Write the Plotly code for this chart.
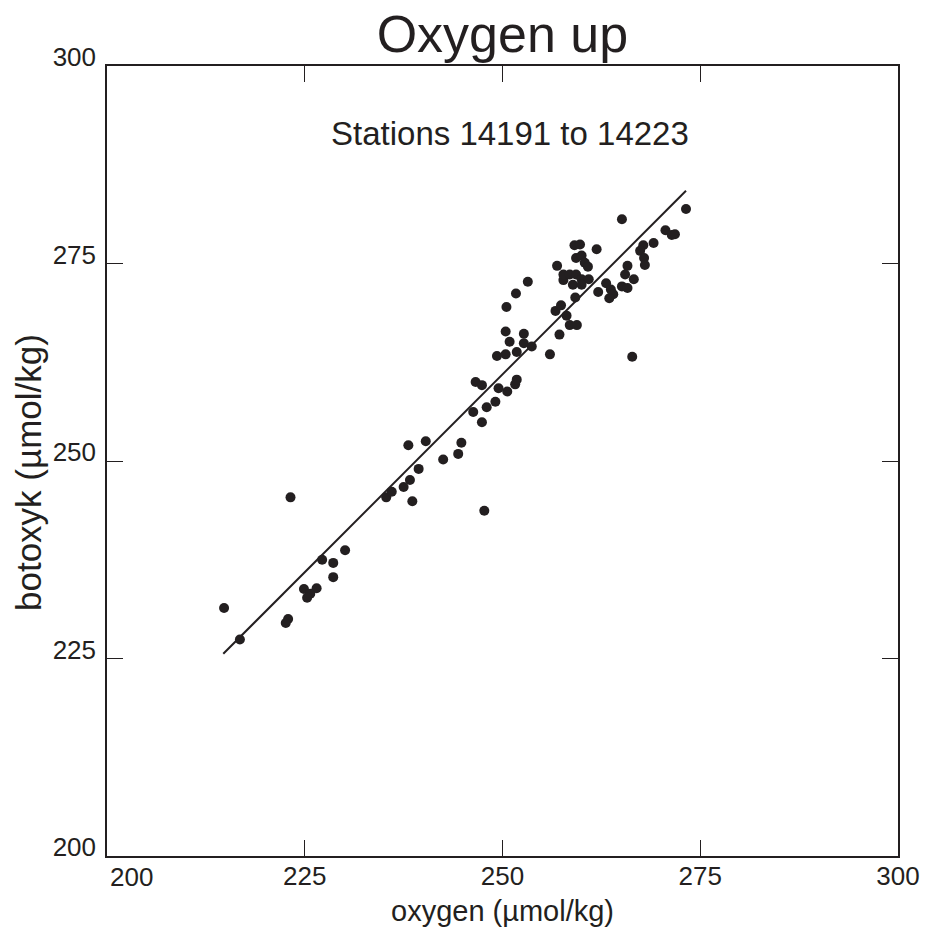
import plotly.graph_objects as go

# Oxygen (x) vs bottle oxygen (y), µmol/kg
oxygen = [
    214.8, 216.8, 223.2, 222.9, 222.6, 227.2, 228.6, 230.1, 228.6, 224.9,
    226.5, 225.7, 225.3, 235.3, 236.0,
    238.6, 237.5, 238.3, 239.4, 238.1, 240.3, 242.5, 244.4, 244.8, 247.7,
    246.3, 247.4, 248.0, 249.1, 246.6, 247.4, 249.5, 250.6, 251.6, 251.8,
    249.3, 250.4, 251.8, 250.9, 250.4, 252.7, 252.7, 253.7, 256.0, 250.5,
    251.7, 253.2, 257.2, 256.7, 257.4, 258.1, 258.5, 259.4, 259.2, 257.7,
    258.9,
    273.2, 265.1, 270.6, 271.4, 271.8, 269.1, 267.8, 267.4, 267.9, 268.0,
    259.1, 259.8, 261.9, 259.3, 260.0, 260.4, 260.8, 256.9, 257.7, 258.5,
    259.3, 260.0, 260.9, 260.0, 263.1, 262.1, 263.7, 264.0, 263.5,
    265.8, 265.5, 266.6, 265.1, 265.8, 266.4,
]
botoxyk = [
    231.4, 227.4, 245.4, 230.0, 229.5, 237.5, 237.1, 238.7, 235.3, 233.8,
    233.9, 233.2, 232.7, 245.4, 246.1,
    244.9, 246.7, 247.6, 249.0, 252.0, 252.5, 250.2, 250.9, 252.3, 243.7,
    256.2, 254.9, 256.8, 257.5, 260.0, 259.6, 259.2, 258.8, 259.7, 260.3,
    263.3, 263.5, 263.8, 265.1, 266.4, 266.1, 264.9, 264.5, 263.5, 269.5,
    271.2, 272.7, 266.0, 269.0, 269.7, 268.4, 267.2, 267.2, 270.7, 272.9,
    272.3,
    281.9, 280.6, 279.2, 278.6, 278.7, 277.6, 277.3, 276.6, 275.7, 274.8,
    277.3, 277.4, 276.8, 275.7, 276.0, 275.1, 274.6, 274.7, 273.6, 273.6,
    273.6, 273.0, 273.0, 272.3, 272.5, 271.4, 271.7, 271.1, 270.6,
    274.7, 273.6, 273.0, 272.1, 271.9, 263.2,
]

# Least-squares fit line endpoints
fit_x = [214.7, 273.2]
fit_y = [225.6, 284.2]

tick_vals = [200, 225, 250, 275, 300]
tick_text = ["200", "225", "250", "275", "300"]

x_title = "oxygen (µmol/kg)"
y_title = "botoxyk (µmol/kg)"
note = "Stations 14191 to 14223"

ink = "#231f20"
font_family = "Liberation Sans, Arial, Helvetica, sans-serif"

fig = go.Figure()
fig.add_trace(go.Scatter(
    x=fit_x, y=fit_y, mode="lines",
    line=dict(color=ink, width=2), showlegend=False, hoverinfo="skip",
))
fig.add_trace(go.Scatter(
    x=oxygen, y=botoxyk, mode="markers",
    marker=dict(color=ink, size=10, line=dict(width=0)),
    showlegend=False,
))

axis_common = dict(
    range=[200, 300], tickvals=tick_vals,
    ticks="inside", ticklen=16, tickwidth=1, tickcolor=ink,
    showline=True, linecolor=ink, linewidth=1.5, mirror="ticks",
    showgrid=False, zeroline=False, automargin=False,
    tickfont=dict(family=font_family, size=26, color=ink),
)

fig.update_xaxes(**axis_common, ticktext=[""] + tick_text[1:],
                 ticklabelstandoff=-4)
fig.update_yaxes(
    **axis_common,
    ticktext=tick_text,
    ticklabelshift=-9,
    ticklabelstandoff=4,
)

# x label for 200 sits right of the corner so it clears the y label
fig.add_annotation(
    x=tick_vals[0], y=0, xref="x", yref="paper", yanchor="top",
    text=tick_text[0], showarrow=False, xshift=24, yshift=-4,
    font=dict(family=font_family, size=26, color=ink),
)

# axis titles
fig.add_annotation(
    x=0.5, y=0, xref="paper", yref="paper", xanchor="center", yanchor="middle",
    text=x_title, showarrow=False, yshift=-55,
    font=dict(family=font_family, size=29, color=ink),
)
fig.add_annotation(
    x=0, y=0.5, xref="paper", yref="paper", xanchor="center", yanchor="middle",
    text=y_title, showarrow=False, textangle=-90, xshift=-79, yshift=-12,
    font=dict(family=font_family, size=35, color=ink),
)

fig.add_annotation(
    x=251, y=291.5, xref="x", yref="y",
    text=note, showarrow=False,
    font=dict(family=font_family, size=33, color=ink),
)

fig.update_layout(
    width=927, height=935,
    margin=dict(l=107, r=29, t=66, b=79),
    paper_bgcolor="white", plot_bgcolor="white",
    title=dict(text="Oxygen up", x=0.542, xanchor="center",
               y=0.944, yanchor="bottom",
               font=dict(family=font_family, size=52, color=ink)),
)

fig.write_html("out.html")
